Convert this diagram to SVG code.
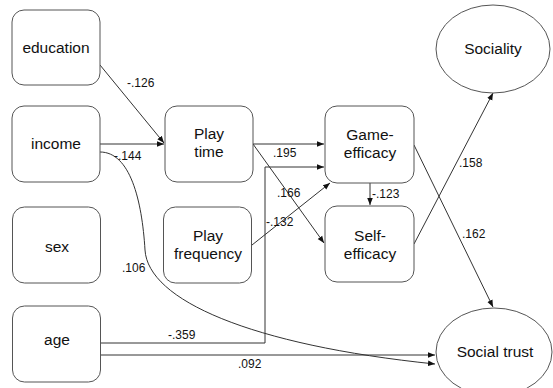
<svg xmlns="http://www.w3.org/2000/svg" width="553" height="388" viewBox="0 0 553 388">
<style>
.box{fill:#fff;stroke:#555;stroke-width:1}
.ell{fill:#fff;stroke:#555;stroke-width:1}
.t{font-family:"Liberation Sans",Arial,sans-serif;font-size:15.5px;fill:#111;text-anchor:middle}
.n{font-family:"Liberation Sans",Arial,sans-serif;font-size:12px;fill:#111}
.c{fill:none;stroke:#333;stroke-width:1;marker-end:url(#a)}
</style>
<defs>
<marker id="a" viewBox="0 0 10 10" refX="10" refY="5" markerWidth="7" markerHeight="7" markerUnits="userSpaceOnUse" orient="auto">
<path d="M0,1 L10,5 L0,9 z" fill="#111"/>
</marker>
</defs>
<rect width="553" height="388" fill="#fff"/>
<g id="connectors">
<path class="c" d="M100,65 L164,143"/>
<path class="c" d="M100,144 L164,144"/>
<path class="c" d="M100,152 C130,152 142,200 145,250 C148,300 250,345 435,364"/>
<path class="c" d="M253,144 L324,144"/>
<path class="c" d="M253,144 L324,243"/>
<path class="c" d="M101,343 L265,343 L265,167 L324,167"/>
<path class="c" d="M252,245 L330,183"/>
<path class="c" d="M370,183 L370,205"/>
<path class="c" d="M414,244 L493,93"/>
<path class="c" d="M414,145 L493,307"/>
<path class="c" d="M101,355 L435,355"/>
</g>
<g id="labels">
<text class="n" x="127" y="87">-.126</text>
<text class="n" x="114" y="160">-.144</text>
<text class="n" x="273" y="157">.195</text>
<text class="n" x="277" y="197">.166</text>
<text class="n" x="266" y="226">-.132</text>
<text class="n" x="372" y="198">-.123</text>
<text class="n" x="459" y="167">.158</text>
<text class="n" x="462" y="238">.162</text>
<text class="n" x="122" y="272">.106</text>
<text class="n" x="168" y="339">-.359</text>
<text class="n" x="238" y="368">.092</text>
</g>
<g id="education"><rect class="box" x="12" y="10" width="88" height="75" rx="12"/><text class="t" x="56" y="53">education</text></g>
<g id="income"><rect class="box" x="12" y="106" width="88" height="76" rx="12"/><text class="t" x="56" y="149">income</text></g>
<g id="sex"><rect class="box" x="12.5" y="207" width="88" height="76" rx="12"/><text class="t" x="57" y="252">sex</text></g>
<g id="age"><rect class="box" x="12.5" y="306" width="88" height="76" rx="12"/><text class="t" x="57" y="345">age</text></g>
<g id="playtime"><rect class="box" x="165" y="106" width="88" height="76" rx="12"/><text class="t" x="209" y="139">Play</text><text class="t" x="209" y="157">time</text></g>
<g id="playfrequency"><rect class="box" x="163.5" y="207" width="88" height="76" rx="12"/><text class="t" x="208" y="241">Play</text><text class="t" x="208" y="259">frequency</text></g>
<g id="gameefficacy"><rect class="box" x="325" y="106" width="89" height="77" rx="12"/><text class="t" x="370" y="140">Game-</text><text class="t" x="370" y="158">efficacy</text></g>
<g id="selfefficacy"><rect class="box" x="325" y="206" width="89" height="76" rx="12"/><text class="t" x="370" y="241">Self-</text><text class="t" x="370" y="259">efficacy</text></g>
<g id="sociality"><ellipse class="ell" cx="493" cy="49" rx="57" ry="44"/><text class="t" x="493" y="54">Sociality</text></g>
<g id="socialtrust"><ellipse class="ell" cx="494" cy="352" rx="58" ry="44"/><text class="t" x="495" y="357">Social trust</text></g>
</svg>
